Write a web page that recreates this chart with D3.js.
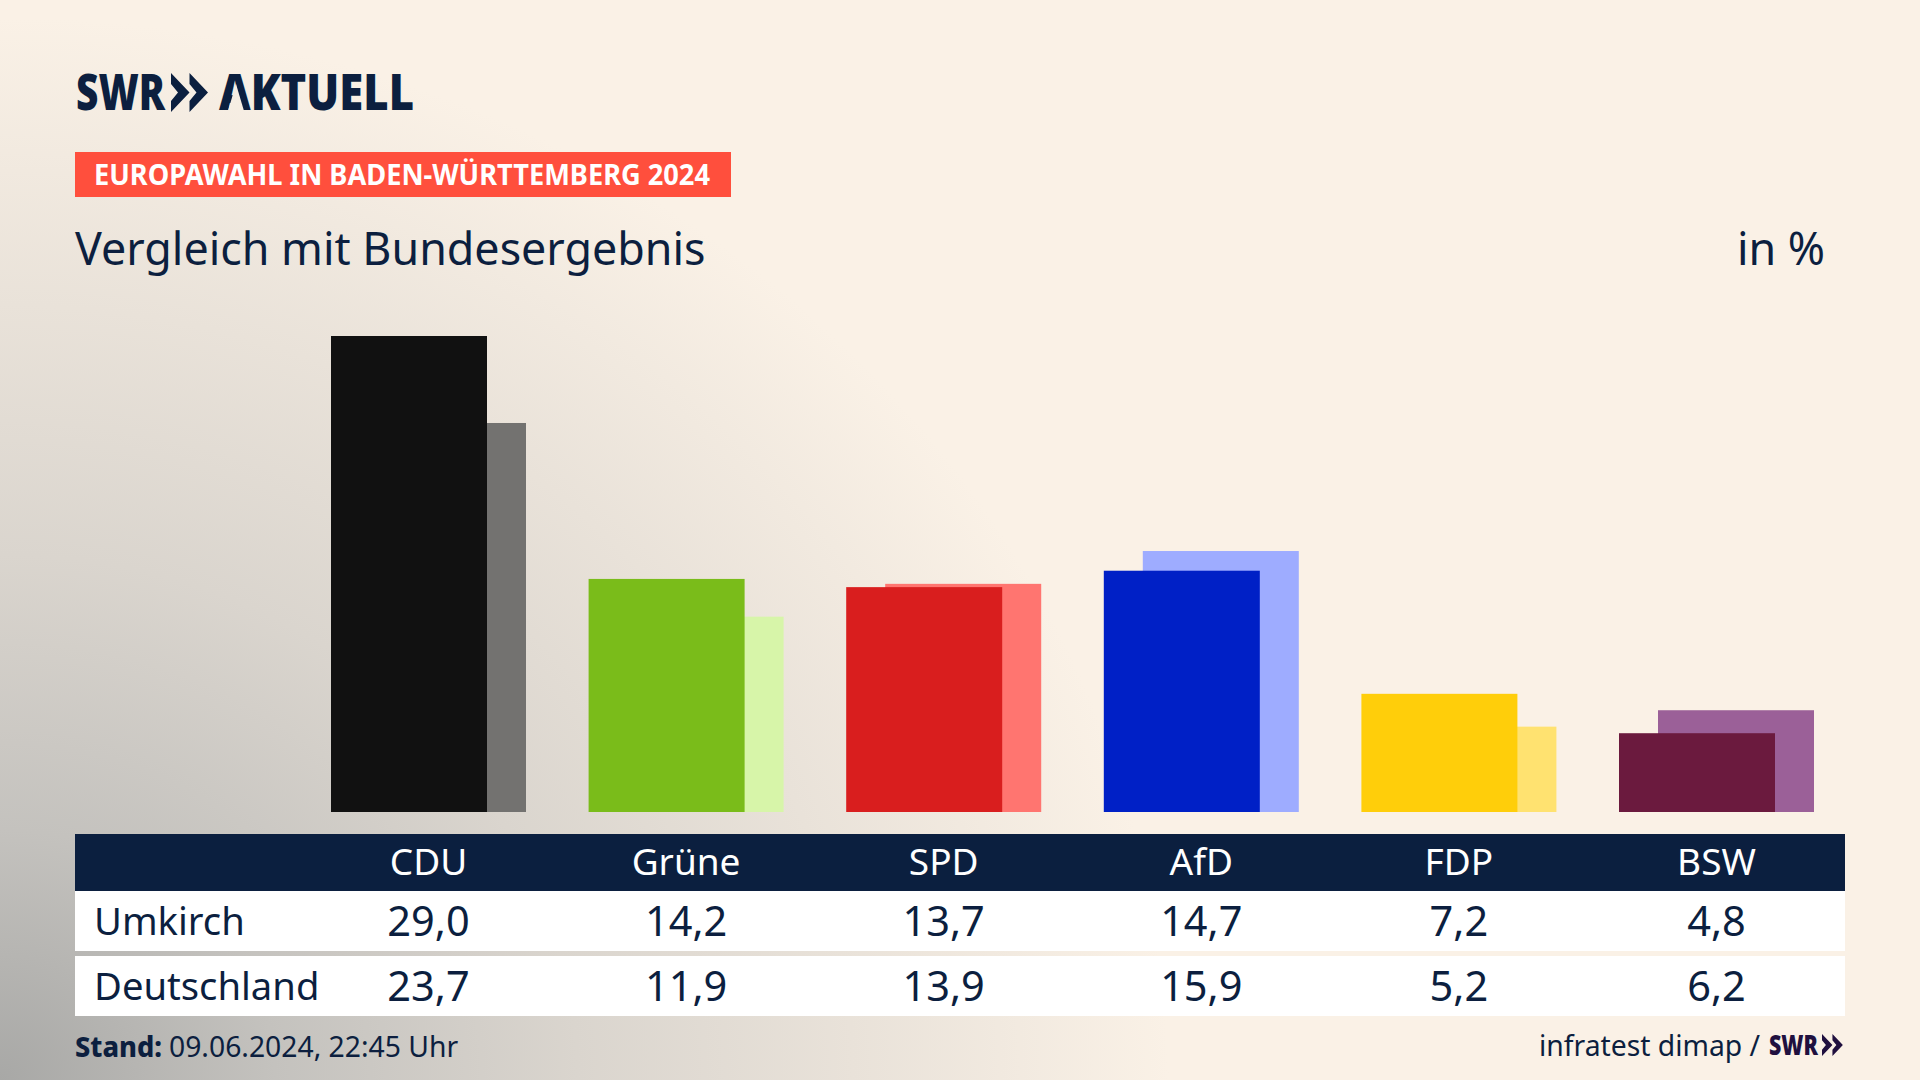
<!DOCTYPE html>
<html lang="de">
<head>
<meta charset="utf-8">
<title>Vergleich mit Bundesergebnis</title>
<script src="https://cdn.jsdelivr.net/npm/d3@7"></script>
<style>
  html, body { margin: 0; padding: 0; background: #faf1e6; }
  svg { display: block; }
  text { font-family: "Noto Sans", sans-serif; fill: #0c1f3f; }
</style>
</head>
<body>
<svg id="chart" width="1920" height="1080"></svg>
<script>
"use strict";

var parties = ["CDU", "Grüne", "SPD", "AfD", "FDP", "BSW"];
var umkirch = [29.0, 14.2, 13.7, 14.7, 7.2, 4.8];
var deutschland = [23.7, 11.9, 13.9, 15.9, 5.2, 6.2];
var frontColors = ["#111111", "#7abc1a", "#d91e1e", "#0020c6", "#ffce0a", "#6b1a3e"];
var backColors = ["#737270", "#d7f5a9", "#ff7570", "#9eacff", "#ffe270", "#9b6098"];
var rowLabels = ["Umkirch", "Deutschland"];

var navy = "#0b1f3f";
var svg = d3.select("#chart");

// background: warm cream fading into grey at the lower left
var defs = svg.append("defs");
var bgGradient = defs.append("radialGradient")
    .attr("id", "bg")
    .attr("gradientUnits", "userSpaceOnUse")
    .attr("gradientTransform", "translate(0,1080) scale(1.1,1) translate(0,-1080)")
    .attr("cx", 0).attr("cy", 1080).attr("r", 1250);
[[0, "#a8a8a6"], [0.2, "#c4c2be"], [0.42, "#dad5ce"], [0.62, "#e9e2d9"], [0.85, "#faf1e6"], [1, "#faf1e6"]]
  .forEach(function(s) {
    bgGradient.append("stop").attr("offset", s[0]).attr("stop-color", s[1]);
  });
svg.append("rect").attr("width", 1920).attr("height", 1080).attr("fill", "url(#bg)");

var x = d3.scalePoint().domain(parties).range([428.5, 1716.5]);
var y = d3.scaleLinear().domain([0, 29]).range([812, 336]);
var deLocale = d3.formatLocale({ decimal: ",", thousands: ".", grouping: [3], currency: ["", "€"] });
var fmt = deLocale.format(".1f");

var barWidth = 156;
var barShift = 39;

/**
 * Two SWR chevrons, used by both the large and the small logo.
 */
function chevrons(g, left, top, size, fill) {
  var s = size / 39;
  [0, 18.5].forEach(function(dx) {
    var pts = [[0, 0], [18.5, 19.5], [0, 39], [0, 28], [7, 19.5], [0, 11]];
    g.append("polygon")
      .attr("points", pts.map(function(p) { return (left + (p[0] + dx) * s) + "," + (top + p[1] * s); }).join(" "))
      .attr("fill", fill);
  });
}

// logo
var logo = svg.append("g");
logo.append("text").attr("x", 76).attr("y", 110)
    .attr("textLength", 89).attr("lengthAdjust", "spacingAndGlyphs")
    .style("font-size", "49px").style("font-weight", 900).text("SWR");
chevrons(logo, 171, 73, 39, navy);
logo.append("text").attr("x", 219).attr("y", 110)
    .attr("textLength", 195).attr("lengthAdjust", "spacingAndGlyphs")
    .style("font-size", "49px").style("font-weight", 900).text("AKTUELL");
// the logo's A has no crossbar
logo.append("polygon")
    .attr("points", "236,84 228,111 244,111")
    .attr("fill", "url(#bg)");

// banner
svg.append("rect").attr("x", 75).attr("y", 152).attr("width", 656).attr("height", 45).attr("fill", "#ff4f3d");
svg.append("text").attr("x", 94).attr("y", 185)
    .style("font-size", "28px").style("font-weight", 700).style("fill", "#fff")
    .attr("textLength", 616).attr("lengthAdjust", "spacingAndGlyphs")
    .text("EUROPAWAHL IN BADEN-WÜRTTEMBERG 2024");

// title and unit
svg.append("text").attr("x", 75).attr("y", 265).style("font-size", "44.8px").text("Vergleich mit Bundesergebnis");
svg.append("text").attr("x", 1825).attr("y", 265).attr("text-anchor", "end").style("font-size", "44.8px").text("in %");

// bars: national result behind, local result in front
svg.selectAll("rect.back")
  .data(deutschland)
  .enter()
  .append("rect")
    .attr("class", "back")
    .attr("x", function(d, i) { return x(parties[i]) - barWidth / 2 - barShift / 2 + barShift; })
    .attr("y", function(d) { return y(d); })
    .attr("width", barWidth)
    .attr("height", function(d) { return y(0) - y(d); })
    .attr("fill", function(d, i) { return backColors[i]; });

svg.selectAll("rect.front")
  .data(umkirch)
  .enter()
  .append("rect")
    .attr("class", "front")
    .attr("x", function(d, i) { return x(parties[i]) - barWidth / 2 - barShift / 2; })
    .attr("y", function(d) { return y(d); })
    .attr("width", barWidth)
    .attr("height", function(d) { return y(0) - y(d); })
    .attr("fill", function(d, i) { return frontColors[i]; });

// table
var tableLeft = 75, tableWidth = 1770;
svg.append("rect").attr("x", tableLeft).attr("y", 834).attr("width", tableWidth).attr("height", 57).attr("fill", navy);
svg.append("rect").attr("x", tableLeft).attr("y", 891).attr("width", tableWidth).attr("height", 60).attr("fill", "#fff");
svg.append("rect").attr("x", tableLeft).attr("y", 956).attr("width", tableWidth).attr("height", 60).attr("fill", "#fff");

svg.selectAll("text.party")
  .data(parties)
  .enter()
  .append("text")
    .attr("class", "party")
    .attr("x", function(d) { return x(d); })
    .attr("y", 875)
    .attr("text-anchor", "middle")
    .style("font-size", "37px")
    .style("fill", "#fff")
    .text(function(d) { return d; });

[umkirch, deutschland].forEach(function(row, r) {
  var baseline = [936, 1001][r];
  svg.append("text").attr("x", 94).attr("y", baseline - 1).style("font-size", "38.2px").text(rowLabels[r]);
  svg.selectAll("text.val" + r)
    .data(row)
    .enter()
    .append("text")
      .attr("class", "val" + r)
      .attr("x", function(d, i) { return x(parties[i]); })
      .attr("y", baseline)
      .attr("text-anchor", "middle")
      .style("font-size", "41.5px")
      .text(function(d) { return fmt(d); });
});

// footer
svg.append("text").attr("x", 75).attr("y", 1057)
    .attr("textLength", 87).attr("lengthAdjust", "spacingAndGlyphs")
    .style("font-size", "28.3px").style("font-weight", 800).text("Stand:");
svg.append("text").attr("x", 169).attr("y", 1057).style("font-size", "28.3px").text("09.06.2024, 22:45 Uhr");

svg.append("text").attr("x", 1539).attr("y", 1056).style("font-size", "28.3px").text("infratest dimap /");
svg.append("text").attr("x", 1769).attr("y", 1055)
    .attr("textLength", 49).attr("lengthAdjust", "spacingAndGlyphs")
    .style("font-size", "28px").style("font-weight", 900).style("fill", "#20103f").text("SWR");
chevrons(svg.append("g"), 1822, 1034, 22, "#20103f");
</script>
</body>
</html>
